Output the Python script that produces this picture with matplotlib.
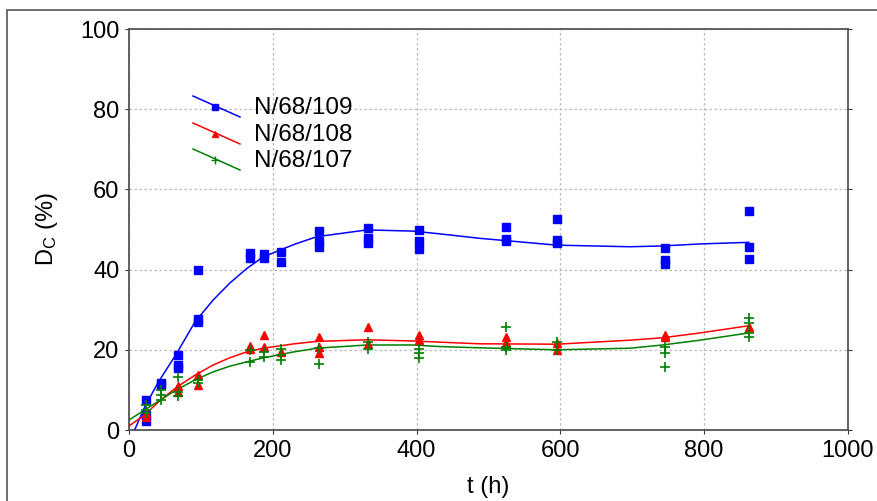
import matplotlib
matplotlib.use("Agg")
import matplotlib.pyplot as plt
import numpy as np
from matplotlib.patches import Rectangle

plt.rcParams['font.family'] = ['Liberation Sans', 'DejaVu Sans']
plt.rcParams['mathtext.default'] = 'regular'

# measured points (t in h, Dc in %)
t_109 = [24, 24, 24, 44, 44, 68, 68, 68, 96, 96, 96, 168, 168, 188, 188, 212, 212,
         264, 264, 264, 332, 332, 332, 404, 404, 404, 524, 524, 524, 596, 596, 596,
         745, 745, 745, 862, 862, 862]
dc_109 = [7.5, 3.7, 2.3, 11.8, 11.3, 18.7, 16.2, 15.4, 39.9, 27.8, 27.0, 44.1, 43.0, 44.0, 43.0, 44.5, 41.8,
          49.6, 47.1, 45.7, 50.5, 48.0, 46.6, 50.0, 47.1, 45.1, 50.7, 47.6, 47.2, 52.6, 47.4, 46.6,
          45.3, 42.4, 41.4, 54.7, 45.6, 42.6]

t_108 = [24, 24, 68, 68, 96, 96, 168, 168, 188, 188, 212, 264, 264, 264, 332, 332,
         404, 404, 524, 524, 596, 596, 745, 745, 862]
dc_108 = [4.2, 3.2, 11.0, 9.6, 13.7, 11.2, 21.0, 20.3, 23.7, 20.6, 19.5, 23.3, 20.8, 19.1, 25.8, 21.5,
          23.7, 22.5, 23.3, 21.8, 21.8, 20.0, 23.8, 23.2, 25.6]

t_107 = [24, 24, 24, 44, 44, 44, 68, 68, 68, 96, 96, 168, 168, 188, 188, 212, 212, 212,
         264, 264, 332, 332, 404, 404, 404, 524, 524, 524, 596, 596, 745, 745, 745,
         862, 862, 862, 862]
dc_107 = [6.2, 5.0, 4.2, 10.0, 8.7, 7.5, 13.3, 9.6, 8.5, 12.5, 11.8, 20.0, 17.0, 19.5, 18.3, 20.1, 18.7, 17.5,
          20.4, 16.5, 22.0, 20.1, 20.1, 19.1, 17.9, 25.6, 20.6, 20.0, 22.0, 20.0, 20.6, 19.3, 15.6,
          27.9, 26.8, 24.3, 23.3]

# fitted curves
t_fit = [0, 22, 41, 65, 92, 117, 140, 164, 187, 230, 261, 331, 395, 433, 488, 595, 697, 742, 794, 862]
fit_109 = [-3.2, 5.8, 12.0, 18.7, 27.0, 32.4, 36.6, 40.3, 43.2, 46.3, 48.2, 49.9, 49.6, 48.9, 47.8, 46.1, 45.7, 45.9, 46.4, 46.8]
fit_108 = [1.0, 3.8, 7.0, 10.5, 13.7, 16.2, 18.0, 19.5, 20.4, 21.5, 22.1, 22.5, 22.2, 21.9, 21.5, 21.4, 22.4, 23.0, 24.2, 26.0]
fit_107 = [2.5, 5.0, 7.2, 9.9, 12.5, 14.5, 15.9, 17.0, 18.0, 19.5, 20.4, 21.2, 21.2, 20.8, 20.5, 20.0, 20.4, 21.2, 22.4, 24.2]

labels = ['N/68/109', 'N/68/108', 'N/68/107']
colors = ['#0000ff', '#ff0000', '#008000']
markers = ['s', '^', '+']

fig = plt.figure(figsize=(8.78, 5.01), dpi=100)
ax = fig.add_axes([0.1469, 0.1417, 0.8189, 0.8004])

series = [(t_109, dc_109, fit_109), (t_108, dc_108, fit_108), (t_107, dc_107, fit_107)]
for (t, dc, fit), c, m in zip(series, colors, markers):
    ax.plot(t_fit, fit, color=c, lw=1.1, zorder=3)
    if m == '+':
        ax.plot(t, dc, ls='none', marker=m, ms=7, mew=1.2, color=c, zorder=4)
    else:
        ax.plot(t, dc, ls='none', marker=m, ms=6, color=c, mec=c, zorder=4)

ax.set_xlim(0, 1000)
ax.set_ylim(0, 100)
ax.set_xticks(np.arange(0, 1001, 200))
ax.set_yticks(np.arange(0, 101, 20))
ax.grid(True, color='#bbbbbb', linestyle=(0, (2, 2)), lw=0.9)
ax.tick_params(direction='out', length=3, labelsize=17, color='#333333',
               right=True, pad=4)
for s in ax.spines.values():
    s.set_color('#555555')
    s.set_linewidth(1.3)

ax.set_xlabel('t (h)', fontsize=17, labelpad=10)
ax.set_ylabel('D$_C$ (%)', fontsize=17, labelpad=14)

# legend drawn by hand: sloped line with marker in the middle
leg_y = [108, 135, 161]
for lab, c, m, yc in zip(labels, colors, markers, leg_y):
    y0 = 1 - (yc - 12) / 501
    y1 = 1 - (yc + 9) / 501
    fig.add_artist(plt.Line2D([193 / 878, 240 / 878], [y0, y1], color=c, lw=1.1))
    fig.add_artist(plt.Line2D([215 / 878], [(y0 + y1) / 2], color=c, marker=m,
                              ms=6 if m == '+' else 4.5, mew=1.0))
    fig.text(254 / 878, 1 - yc / 501, lab, fontsize=17.5, va='center', ha='left')

# outer frame
fig.add_artist(Rectangle((7 / 878, -0.1), 1.2, 1 - 10 / 501 + 0.1, transform=fig.transFigure,
                         fill=False, edgecolor='#555555', lw=1.2))

fig.savefig('out.png', dpi=100)
